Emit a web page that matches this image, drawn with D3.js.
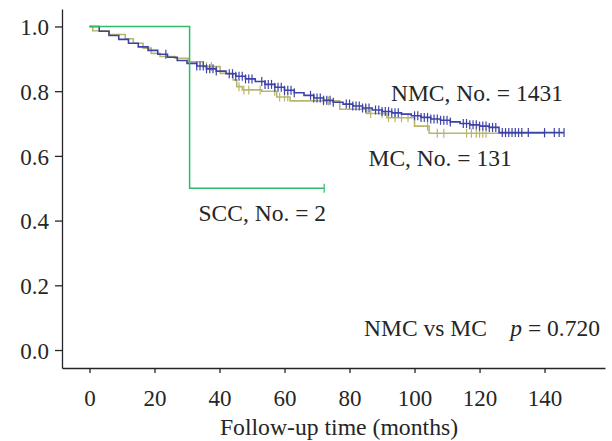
<!DOCTYPE html>
<html><head><meta charset="utf-8">
<script src="https://cdn.jsdelivr.net/npm/d3@7"></script>
<style>
body{margin:0;background:#fff;}
svg{display:block;font-family:"Liberation Serif","Times New Roman",serif;}
</style></head>
<body><svg id="c" width="612" height="441"></svg>
<script>
// NMC (Kaplan-Meier) step times/survival
const nmcTime = [0,3,6,9,12,15,18,21,24,27,30,33,36,39,42,45,48,51,54,57,60,63,66,69,72,75,78,81,84,87,90,93,96,99,102,105,108,111,114,117,120,123,126];
const nmcSurv = [1.0,0.985,0.972,0.960,0.948,0.937,0.926,0.914,0.905,0.895,0.886,0.878,0.869,0.862,0.854,0.846,0.838,0.830,0.821,0.812,0.803,0.795,0.787,0.779,0.772,0.766,0.760,0.754,0.748,0.742,0.737,0.733,0.729,0.724,0.719,0.714,0.710,0.705,0.700,0.696,0.692,0.688,0.672];
const nmcEnd = 146;
const nmcCensor = [23.5,33,34,35,36,37,38,39,43,44,45,46,47,48,49,50,53,54,55,56,57,58,59,60,61,62,63,68,69,70,71,72,73,74,75,79,80,81,82,83,84,85,86,88,89,90,91,92,93,94,95,100,101,102,103,104,105,106,107,108,109,110,111,115,116,117,118,119,120,121,122,123,124,125,127,128,129,130,131,132,133,135,140,143,144.5,146];

// MC
const mcTime = [0,1,6,11,13.5,16.5,19,21.7,26.3,30.4,35,40.2,44.2,45.3,47,53,57.6,61.7,77,85.3,91.5,100,104.5];
const mcSurv = [1.0,0.987,0.975,0.962,0.948,0.933,0.917,0.907,0.902,0.891,0.876,0.855,0.835,0.814,0.804,0.800,0.782,0.770,0.744,0.731,0.718,0.692,0.670];
const mcEnd = 140;
const mcCensor = [36,37.5,46,47.5,49,52.5,57,58.5,60,61,72,73.5,85,86.5,90,92,94,96,98,104,107,109,116,117.5,119,120,121,122,140];

// SCC
const sccTime = [0,30.8];
const sccSurv = [1.0,0.5];
const sccEnd = 72.2;
const sccCensor = [72.2];

const xTicks = [0,20,40,60,80,100,120,140];
const yTicks = [0,0.2,0.4,0.6,0.8,1.0];

const svg = d3.select("#c");
const x = d3.scaleLinear().domain([-8.46,158.6]).range([62,605]);
const y = d3.scaleLinear().domain([-0.0556,1.054]).range([368,9]);
const ink = "#262626";

// axes
const gx = svg.append("g").attr("transform","translate(0,368)")
  .call(d3.axisBottom(x).tickValues(xTicks).tickSize(5).tickSizeOuter(0).tickFormat(d3.format("d")));
gx.selectAll("text").attr("y",38).attr("dy",0).style("font-size","23px").attr("fill",ink);
const gy = svg.append("g").attr("transform","translate(62,0)")
  .call(d3.axisLeft(y).tickValues(yTicks).tickSize(7).tickSizeOuter(0).tickFormat(d3.format(".1f")));
gy.selectAll("text").attr("x",-13).attr("dy","0.36em").style("font-size","23px").attr("fill",ink);
svg.selectAll(".domain, .tick line").attr("stroke",ink).attr("stroke-width",1.3);
svg.selectAll(".tick text").style("font-family","'Liberation Serif','Times New Roman',serif");

function kmLine(times, surv, end, censor, color, width){
  const pts = times.map((t,i)=>[t,surv[i]]);
  pts.push([end, surv[surv.length-1]]);
  const line = d3.line().x(d=>x(d[0])).y(d=>y(d[1])).curve(d3.curveStepAfter);
  svg.append("path").datum(pts).attr("d",line).attr("fill","none")
    .attr("stroke",color).attr("stroke-width",width);
  const sAt = t => { let v = surv[0]; for(let i=0;i<times.length;i++){ if(times[i]<=t) v=surv[i]; } return v; };
  svg.append("g").selectAll("line").data(censor).join("line")
    .attr("x1",d=>x(d)).attr("x2",d=>x(d))
    .attr("y1",d=>y(sAt(d))-4.5).attr("y2",d=>y(sAt(d))+4.5)
    .attr("stroke",color).attr("stroke-width",1.2);
}
kmLine(mcTime, mcSurv, mcEnd, mcCensor, "#b9b76e", 1.6);
kmLine(nmcTime, nmcSurv, nmcEnd, nmcCensor, "#3d42a8", 1.6);
kmLine(sccTime, sccSurv, sccEnd, sccCensor, "#2fba6a", 1.5);

// annotations
const ann = svg.append("g").style("font-size","23.5px").attr("fill",ink);
ann.append("text").attr("x",391).attr("y",101).text("NMC, No. = 1431");
ann.append("text").attr("x",368.5).attr("y",166).text("MC, No. = 131");
ann.append("text").attr("x",198.5).attr("y",221).text("SCC, No. = 2");
const pt = ann.append("text").attr("x",600).attr("y",336).attr("text-anchor","end");
pt.append("tspan").text("NMC vs MC\u2002\u2002");
pt.append("tspan").attr("font-style","italic").text("p");
pt.append("tspan").text(" = 0.720");
svg.append("text").attr("x",339).attr("y",435).attr("text-anchor","middle")
  .style("font-size","23.7px").attr("fill",ink).text("Follow-up time (months)");
</script></body></html>
